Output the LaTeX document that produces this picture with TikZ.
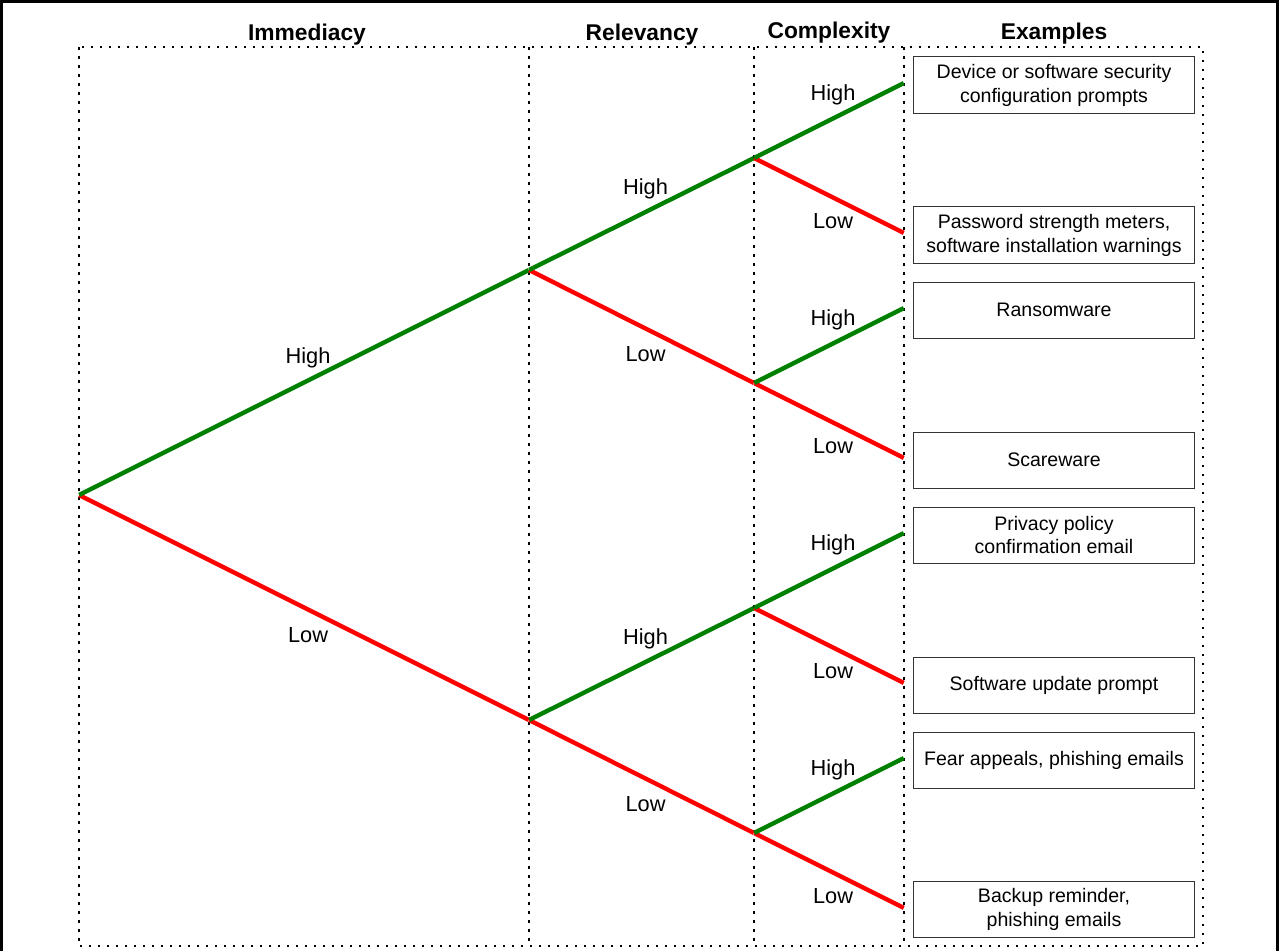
\documentclass[tikz,border=0pt]{standalone}
\usepackage{fontspec}
\setmainfont{Liberation Sans}
\usetikzlibrary{positioning}
\definecolor{hicol}{RGB}{0,128,0}
\definecolor{locol}{RGB}{255,0,0}
\tikzset{n/.style={inner sep=0, minimum size=0pt},
  hi/.style={draw=hicol, line width=3.1pt},
  lo/.style={draw=locol, line width=3.1pt},
  lab/.style={font=\fontsize{15.5}{18}\selectfont, xshift=0.1cm},
  head/.style={font=\fontsize{16.2}{19}\selectfont\bfseries},
  ex/.style={draw=black!80, line width=0.7pt, minimum width=7cm, minimum height=1.4cm,
    inner sep=0, align=center, font=\fontsize{13.9}{17}\selectfont},
  dots/.style={line width=1.8pt, dash pattern=on 1.8pt off 4.6pt}}

\begin{document}
\begin{tikzpicture}[x=0.025cm, y=-0.025cm]
    \useasboundingbox (0,0) rectangle (1279,951);
    \draw[line width=2pt] (1.5,951) -- (1.5,1.5) -- (1277.5,1.5) -- (1277.5,951);

    % column frames
    \draw[dots] (79,47) rectangle (1203,946);
    \foreach \x in {529,754,904}
      \draw[dots] (\x,47) -- (\x,946);

    \node[head] (h1) at (307,35) {Immediacy};
    \node[head] (h2) at (642,35) {Relevancy};
    \node[head] (h3) at (829,33) {Complexity};
    \node[head] (h4) at (1054,34) {Examples};

    % tree points
    \node[n] (R) at (79,495) {};
    \node[n] (A1) at (529,270) {};
    \node[n] (A2) at (529,720) {};
    \foreach \i in {1,2,3,4}
    {
      \pgfmathparse{158+225*(\i-1)}
      \edef\y{\pgfmathresult}
      \node[n] (B\i) at (754,\y) {};
    }
    \def\leafarray{{0,83,233,308,458,533,683,758,908}}
    \foreach \i in {1,...,8}
    {
      \pgfmathparse{\leafarray[\i]}
      \edef\y{\pgfmathresult}
      \node[n] (C\i) at (904,\y) {};
    }

    % edges
    \draw[lo] (R) -- (A2) node[lab, midway, yshift=-0.68cm] {Low};
    \draw[hi] (R) -- (A1) node[lab, midway, yshift=0.62cm] {High};
    \draw[lo] (A1) -- (B2) node[lab, midway, yshift=-0.68cm] {Low};
    \draw[hi] (A1) -- (B1) node[lab, midway, yshift=0.62cm] {High};
    \draw[lo] (A2) -- (B4) node[lab, midway, yshift=-0.68cm] {Low};
    \draw[hi] (A2) -- (B3) node[lab, midway, yshift=0.62cm] {High};
    \foreach \i in {1,2,3,4}
    {
      \pgfmathparse{int(2*\i-1)}
      \edef\a{\pgfmathresult}
      \pgfmathparse{int(2*\i)}
      \edef\b{\pgfmathresult}
      \draw[lo] (B\i) -- (C\b) node[lab, midway, yshift=-0.63cm] {Low};
      \draw[hi] (B\i) -- (C\a) node[lab, midway, yshift=0.64cm] {High};
    }

    % examples
    \node[ex] (E1) at (1054,85) {Device or software security\\configuration prompts};
    \node[ex] (E2) at (1054,235) {Password strength meters,\\software installation warnings};
    \node[ex] (E3) at (1054,310) {Ransomware};
    \node[ex] (E4) at (1054,460) {Scareware};
    \node[ex] (E5) at (1054,535) {Privacy policy\\confirmation email};
    \node[ex] (E6) at (1054,685) {Software update prompt};
    \node[ex] (E7) at (1054,760) {Fear appeals, phishing emails};
    \node[ex] (E8) at (1054,909) {Backup reminder,\\phishing emails};
\end{tikzpicture}
\end{document}
